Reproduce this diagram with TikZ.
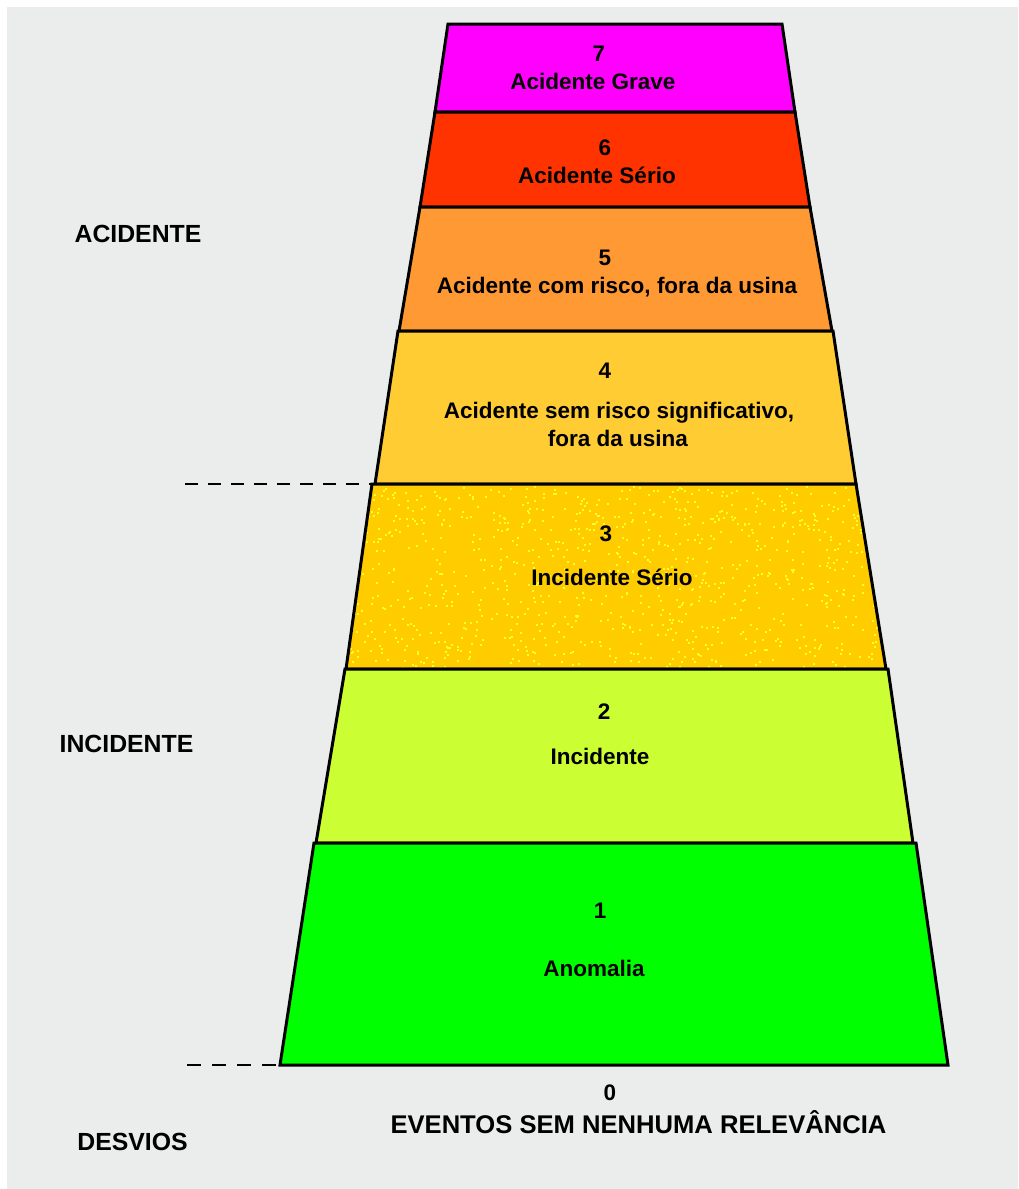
\documentclass[tikz,border=0pt]{standalone}
\usepackage{fontspec}
\setmainfont{Liberation Sans}
\begin{document}
\definecolor{bgray}{RGB}{235,236,236}
\definecolor{lvseven}{RGB}{255,0,255}
\definecolor{lvsix}{RGB}{255,51,0}
\definecolor{lvfive}{RGB}{255,153,51}
\definecolor{lvfour}{RGB}{255,204,51}
\definecolor{lvthree}{RGB}{255,204,0}
\definecolor{lvtwo}{RGB}{204,255,51}
\definecolor{lvone}{RGB}{0,255,0}
\definecolor{speck}{RGB}{255,255,40}
\begin{tikzpicture}[x=1pt,y=-1pt,
  band/.style={draw=black,line width=3pt,line join=miter},
  lbl/.style={anchor=base,inner sep=0pt,font=\fontsize{22.5}{28}\selectfont\bfseries,align=center},
  side/.style={anchor=base,inner sep=0pt,font=\fontsize{24.8}{30}\selectfont\bfseries},
  limit/.style={line width=2.8pt,dash pattern=on 13pt off 10pt},
  limitthin/.style={line width=2pt,dash pattern=on 14pt off 11pt}]
% page and backdrop
\useasboundingbox (0,0) rectangle (1018,1189);
\fill[white] (0,0) rectangle (1018,1189);
\fill[bgray] (7,7) rectangle (1018,1189);

% corner points of the levels
\coordinate (s7a) at (448,24);  \coordinate (s7b) at (782,24);
\coordinate (s7c) at (795,112); \coordinate (s7d) at (435,112);
\coordinate (s6c) at (810,207); \coordinate (s6d) at (420,207);
\coordinate (s5c) at (832,331); \coordinate (s5d) at (399,331);
\coordinate (s4a) at (398,331); \coordinate (s4b) at (833,331);
\coordinate (s4c) at (856,484); \coordinate (s4d) at (375,484);
\coordinate (s3a) at (372,484); \coordinate (s3b) at (856,484);
\coordinate (s3c) at (886,669); \coordinate (s3d) at (346,669);
\coordinate (s2a) at (345,669); \coordinate (s2b) at (888,669);
\coordinate (s2c) at (913,843); \coordinate (s2d) at (316,843);
\coordinate (s1a) at (314,843); \coordinate (s1b) at (916,843);
\coordinate (s1c) at (948,1065); \coordinate (s1d) at (280,1065);

% level bands
\path[band,fill=lvseven] (s7a) -- (s7b) -- (s7c) -- (s7d) -- cycle;
\path[band,fill=lvsix] (s7d) -- (s7c) -- (s6c) -- (s6d) -- cycle;
\path[band,fill=lvfive] (s6d) -- (s6c) -- (s5c) -- (s5d) -- cycle;
\path[band,fill=lvfour] (s4a) -- (s4b) -- (s4c) -- (s4d) -- cycle;
\begin{scope}
  \path[fill=lvthree] (s3a) -- (s3b) -- (s3c) -- (s3d) -- cycle;
  \clip (s3a) -- (s3b) -- (s3c) -- (s3d) -- cycle;
  \pgfmathsetseed{4242}
  \foreach \k in {1,...,900}{
    \pgfmathsetmacro{\yy}{486+rnd*181}
    \pgfmathsetmacro{\xl}{372-(\yy-484)*26/185}
    \pgfmathsetmacro{\xr}{856+(\yy-484)*30/185}
    \pgfmathsetmacro{\xx}{\xl+rnd*(\xr-\xl)}
    \fill[speck] (\xx,\yy) rectangle ++(2,2);
  }
\end{scope}
\path[band] (s3a) -- (s3b) -- (s3c) -- (s3d) -- cycle;
\path[band,fill=lvtwo] (s2a) -- (s2b) -- (s2c) -- (s2d) -- cycle;
\path[band,fill=lvone] (s1a) -- (s1b) -- (s1c) -- (s1d) -- cycle;

% dashed limits on the left
\coordinate (accLim) at (185,484);
\coordinate (devLim) at (187,1065);
\draw[limit] (accLim) -- (s3a);
\draw[limitthin] (devLim) -- (s1d);

% level labels
\node[lbl] (n7) at (599,61) {7};
\node[lbl] (t7) at (593,89) {Acidente Grave};
\node[lbl] (n6) at (605,155) {6};
\node[lbl] (t6) at (597,183) {Acidente Sério};
\node[lbl] (n5) at (605,265) {5};
\node[lbl] (t5) at (617,293) {Acidente com risco, fora da usina};
\node[lbl] (n4) at (605,378) {4};
\node[lbl] (t4a) at (619,418) {Acidente sem risco significativo,};
\node[lbl] (t4b) at (618,446) {fora da usina};
\node[lbl] (n3) at (606,541) {3};
\node[lbl] (t3) at (612,585) {Incidente Sério};
\node[lbl] (n2) at (604,719) {2};
\node[lbl] (t2) at (600,764) {Incidente};
\node[lbl] (n1) at (600,918) {1};
\node[lbl] (t1) at (594,976) {Anomalia};
\node[lbl] (n0) at (610,1100) {0};
\node[side,font=\fontsize{25.6}{30}\selectfont\bfseries] (t0) at (638.5,1133) {EVENTOS SEM NENHUMA RELEVÂNCIA};

% category labels
\node[side] (catA) at (138,242) {ACIDENTE};
\node[side] (catI) at (126.5,752) {INCIDENTE};
\node[side] (catD) at (132.5,1150) {DESVIOS};
\end{tikzpicture}
\end{document}
